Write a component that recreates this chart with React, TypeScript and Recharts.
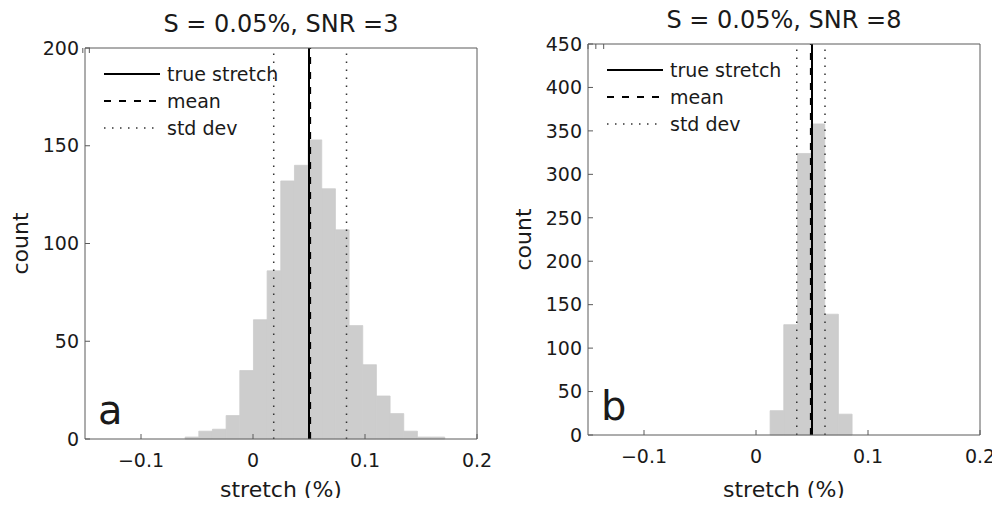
import { Bar, ComposedChart, Label, Legend, ReferenceLine, XAxis, YAxis } from 'recharts'

const X_DOMAIN = [-0.15, 0.2]
const X_TICKS = [-0.1, 0, 0.1, 0.2]
const BIN_WIDTH = 0.0122
const TRUE_STRETCH = 0.05

// panel a: SNR = 3
const BINS_A = [
  -0.0545, -0.0423, -0.0301, -0.0179, -0.0057, 0.0065, 0.0187, 0.0309, 0.0431, 0.0553,
  0.0675, 0.0797, 0.0919, 0.1041, 0.1163, 0.1285, 0.1407, 0.1529, 0.1651,
]
const COUNTS_A = [1, 4, 5, 12, 35, 61, 86, 132, 140, 153, 128, 107, 58, 38, 22, 13, 4, 1, 1]
const Y_TICKS_A = [0, 50, 100, 150, 200]
const MEAN_A = 0.051
const STD_A = 0.0325

// panel b: SNR = 8
const BINS_B = [0.0187, 0.0309, 0.0431, 0.0553, 0.0675, 0.0797]
const COUNTS_B = [28, 127, 324, 358, 139, 24]
const Y_TICKS_B = [0, 50, 100, 150, 200, 250, 300, 350, 400, 450]
const MEAN_B = 0.049
const STD_B = 0.0126

const LEGEND_LABELS = ['true stretch', 'mean', 'std dev']
const LINE_STYLES = [
  { stroke: '#000', strokeWidth: 2, dash: undefined },
  { stroke: '#000', strokeWidth: 2, dash: '7 8' },
  { stroke: '#333', strokeWidth: 1.5, dash: '1.5 6.5' },
]

const CHART_W = 500
const CHART_H = 506
const PLOT_W = 392
const PLOT_H = 391
const Y_AXIS_W = 60
const FRAME = '#5a5a5a'
const INK = '#1a1a1a'
const BAR_FILL = '#cdcdcd'
const FONT = 'DejaVu Sans'

const fmtX = (v: number) => (v < 0 ? `\u2212${Math.abs(v)}` : String(v))

function LegendBox() {
  return (
    <div style={{ display: 'flex', flexDirection: 'column', fontFamily: FONT }}>
      {LEGEND_LABELS.map((label, i) => {
        const s = LINE_STYLES[i]
        return (
          <div key={label} style={{ display: 'flex', alignItems: 'center', height: 27 }}>
            <svg width={56} height={6}>
              <line x1={0} y1={3} x2={56} y2={3} stroke={s.stroke} strokeWidth={s.strokeWidth} strokeDasharray={s.dash} />
            </svg>
            <span style={{ marginLeft: 7, fontSize: 19, color: INK, lineHeight: '20px' }}>{label}</span>
          </div>
        )
      })}
    </div>
  )
}

type PanelProps = {
  title: string
  letter: string
  bins: number[]
  counts: number[]
  yTicks: number[]
  mean: number
  std: number
  plotLeft: number
  plotTop: number
}

function Panel({ title, letter, bins, counts, yTicks, mean, std, plotLeft, plotTop }: PanelProps) {
  const data = bins.map((x, i) => ({ x, count: counts[i] }))
  const barSize = Math.floor((BIN_WIDTH / (X_DOMAIN[1] - X_DOMAIN[0])) * PLOT_W * 100) / 100
  const yDomain = [0, yTicks[yTicks.length - 1]]
  const bottomH = CHART_H - plotTop - PLOT_H
  const lines = [TRUE_STRETCH, mean, mean - std, mean + std]
  const styleIdx = [0, 1, 2, 2]
  const countX = plotLeft - 57
  const countY = plotTop + PLOT_H / 2

  return (
    <ComposedChart
      width={CHART_W}
      height={CHART_H}
      data={data}
      margin={{ top: plotTop - 5, right: CHART_W - plotLeft - PLOT_W - 5, bottom: 0, left: plotLeft - Y_AXIS_W }}
    >
      <XAxis
        dataKey="x"
        type="number"
        domain={X_DOMAIN}
        ticks={X_TICKS}
        allowDataOverflow
        height={bottomH}
        tickSize={-5}
        tickMargin={20}
        tickFormatter={fmtX}
        tick={{ fontSize: 19, fill: INK }}
        axisLine={{ stroke: FRAME }}
        tickLine={{ stroke: FRAME }}
      >
        <Label value="stretch (%)" position="insideBottom" offset={9} fontSize={22} fill={INK} />
        <Label
          content={() => (
            <text x={plotLeft + 13} y={plotTop + PLOT_H - 15} fontSize={40} fill={INK}>
              {letter}
            </text>
          )}
        />
      </XAxis>
      <XAxis
        xAxisId="top"
        orientation="top"
        type="number"
        domain={X_DOMAIN}
        ticks={X_TICKS}
        allowDataOverflow
        height={5}
        tickSize={-5}
        tickFormatter={() => ''}
        axisLine={{ stroke: FRAME }}
        tickLine={{ stroke: FRAME }}
      >
        <Label value={title} position="top" offset={11} fontSize={24} fill={INK} />
      </XAxis>
      <YAxis
        type="number"
        domain={yDomain}
        ticks={yTicks}
        width={Y_AXIS_W}
        tickSize={-5}
        tickMargin={11}
        tick={{ fontSize: 19, fill: INK }}
        axisLine={{ stroke: FRAME }}
        tickLine={{ stroke: FRAME }}
      >
        <Label
          content={() => (
            <text
              x={countX}
              y={countY}
              transform={`rotate(-90 ${countX} ${countY})`}
              textAnchor="middle"
              fontSize={22}
              fill={INK}
            >
              count
            </text>
          )}
        />
      </YAxis>
      <YAxis
        yAxisId="right"
        orientation="right"
        type="number"
        domain={yDomain}
        ticks={yTicks}
        width={5}
        tickSize={-5}
        tickFormatter={() => ''}
        axisLine={{ stroke: FRAME }}
        tickLine={{ stroke: FRAME }}
      />
      <Bar
        dataKey="count"
        fill={BAR_FILL}
        stroke={BAR_FILL}
        strokeWidth={0.8}
        barSize={barSize}
        isAnimationActive={false}
      />
      {lines.map((x, i) => {
        const s = LINE_STYLES[styleIdx[i]]
        return (
          <ReferenceLine
            key={i}
            x={x}
            stroke={s.stroke}
            strokeWidth={s.strokeWidth}
            strokeDasharray={s.dash}
          />
        )
      })}
      <Legend
        layout="horizontal"
        verticalAlign="middle"
        align="center"
        content={<LegendBox />}
        wrapperStyle={{ left: plotLeft + 19, top: plotTop + 12, width: 'auto', height: 'auto' }}
      />
    </ComposedChart>
  )
}

export default function App() {
  return (
    <div style={{ position: 'relative', width: 1000, height: 506, margin: -8, background: '#fff', fontFamily: FONT }}>
      <div style={{ position: 'absolute', left: 0, top: 0 }}>
        <Panel
          title="S = 0.05%, SNR =3"
          letter="a"
          bins={BINS_A}
          counts={COUNTS_A}
          yTicks={Y_TICKS_A}
          mean={MEAN_A}
          std={STD_A}
          plotLeft={85}
          plotTop={48}
        />
      </div>
      <div style={{ position: 'absolute', left: 500, top: 0 }}>
        <Panel
          title="S = 0.05%, SNR =8"
          letter="b"
          bins={BINS_B}
          counts={COUNTS_B}
          yTicks={Y_TICKS_B}
          mean={MEAN_B}
          std={STD_B}
          plotLeft={88}
          plotTop={44}
        />
      </div>
    </div>
  )
}
